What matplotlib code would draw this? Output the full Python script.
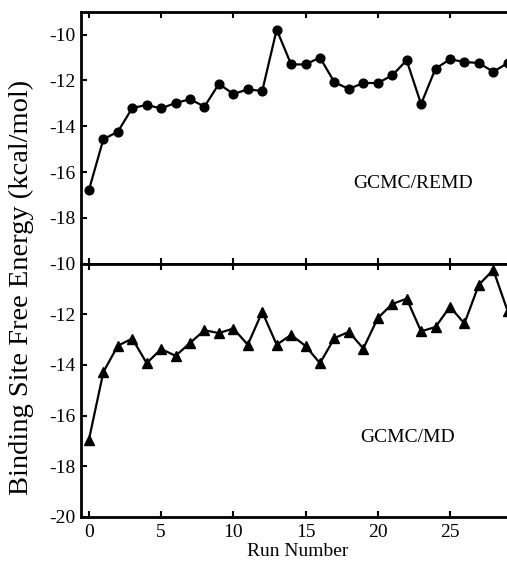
import matplotlib
matplotlib.use("Agg")
import matplotlib.pyplot as plt

plt.rcParams["font.family"] = ["Liberation Serif", "DejaVu Serif"]
plt.rcParams["axes.unicode_minus"] = False

runs = list(range(30))
remd_energy = [-16.78, -14.56, -14.24, -13.20, -13.07, -13.22, -12.98, -12.82,
               -13.14, -12.15, -12.59, -12.39, -12.46, -9.78, -11.30, -11.30,
               -11.00, -12.08, -12.37, -12.11, -12.11, -11.78, -11.12, -13.03,
               -11.48, -11.08, -11.19, -11.24, -11.62, -11.24]
md_energy = [-16.95, -14.28, -13.24, -12.96, -13.93, -13.37, -13.64, -13.13,
             -12.63, -12.74, -12.56, -13.20, -11.90, -13.20, -12.81, -13.25,
             -13.93, -12.94, -12.69, -13.35, -12.15, -11.59, -11.38, -12.67,
             -12.50, -11.70, -12.36, -10.83, -10.24, -11.88]
x_ticks = [0, 5, 10, 15, 20, 25]
remd_yticks = [-18, -16, -14, -12, -10]
md_yticks = [-20, -18, -16, -14, -12, -10]

fig = plt.figure(figsize=(5.07, 5.61), dpi=100)
left, width = 81 / 507, 1 - 81 / 507
mid = 0.5298
ax_top = fig.add_axes([left, mid, width, 0.9791 - mid])
ax_bot = fig.add_axes([left, 0.0790, width, mid - 0.0790])

ax_top.plot(runs, remd_energy, color="black", lw=1.6, marker="o", ms=6.3)
ax_bot.plot(runs, md_energy, color="black", lw=1.6, marker="^", ms=7.5)

ax_top.set_ylim(-20, -9)
ax_bot.set_ylim(-20, -10)
ax_top.set_yticks(remd_yticks)
ax_bot.set_yticks(md_yticks)

for ax in (ax_top, ax_bot):
    ax.set_xlim(-0.55, 28.95)
    ax.set_xticks(x_ticks)
    for side in ("left", "top", "bottom"):
        ax.spines[side].set_linewidth(2.0)
    ax.spines["right"].set_visible(False)
    ax.tick_params(direction="in", length=4, width=1.5, labelsize=14,
                   top=True, bottom=True, left=True, right=False)
    ax.tick_params(axis="x", pad=5)
    ax.tick_params(axis="y", pad=4)

ax_top.tick_params(labelbottom=False)

fig.text(413 / 507, 1 - 183 / 561, "GCMC/REMD", ha="center", va="center", fontsize=14)
fig.text(408 / 507, 1 - 437 / 561, "GCMC/MD", ha="center", va="center", fontsize=14)
fig.text(298 / 507, 1 - 551 / 561, "Run Number", ha="center", va="center", fontsize=14)
fig.text(21 / 507, 1 - 287 / 561, "Binding Site Free Energy (kcal/mol)",
         rotation=90, ha="center", va="center", fontsize=20.5)

fig.savefig("out.png", dpi=100)
